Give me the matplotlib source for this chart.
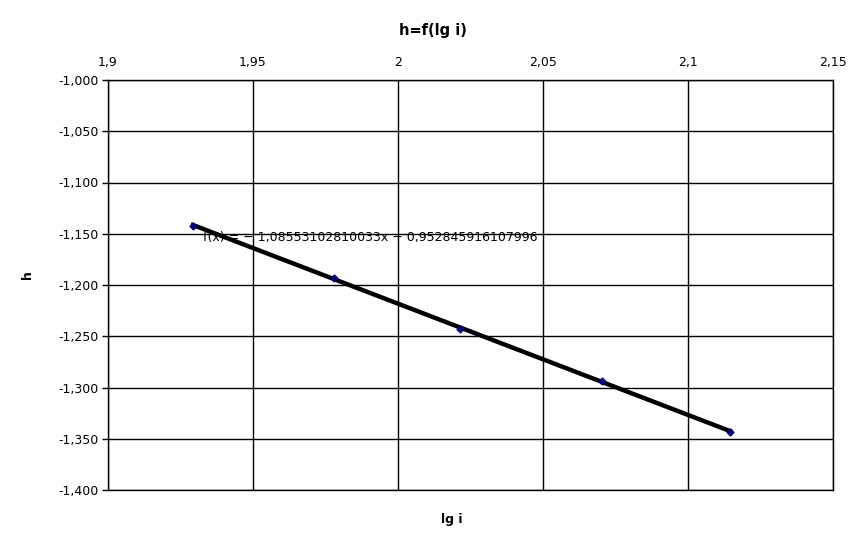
import numpy as np
import matplotlib.pyplot as plt
from matplotlib.ticker import FuncFormatter, MultipleLocator

# measured points (lg i, h)
lg_i = [1.9293, 1.9779, 2.0214, 2.0703, 2.1145]
h = [-1.1424, -1.1932, -1.2429, -1.2937, -1.3434]

# trendline as printed on the chart
slope = -1.08553102810033
intercept = 0.952845916107996
eq_label = "f(x) = \u2212 1,08553102810033x \u2212 0,952845916107996"


def comma(fmt):
    return FuncFormatter(lambda v, p: fmt(v).replace(".", ","))


def main():
    fig = plt.figure(figsize=(8.66, 5.48), dpi=100)
    ax = fig.add_axes([108 / 866, 1 - 490 / 548, 725 / 866, 410 / 548])

    xs = np.array([min(lg_i), max(lg_i)])
    ax.plot(xs, slope * xs + intercept, color="black", lw=3.2, zorder=3)
    ax.plot(lg_i, h, linestyle="none", marker="D", ms=3.5, color="#000080", zorder=4)

    ax.text(1.9327, -1.1535, eq_label, fontsize=9, va="center", ha="left", zorder=5)

    ax.set_xlim(1.9, 2.15)
    ax.set_ylim(-1.4, -1.0)
    ax.xaxis.set_major_locator(MultipleLocator(0.05))
    ax.yaxis.set_major_locator(MultipleLocator(0.05))
    ax.xaxis.set_major_formatter(comma(lambda v: ("%.2f" % v).rstrip("0").rstrip(".")))
    ax.yaxis.set_major_formatter(comma(lambda v: "%.3f" % v))
    ax.xaxis.tick_top()
    ax.tick_params(axis="x", length=0, pad=8, labelsize=9)
    ax.tick_params(axis="y", length=4, width=1, pad=3, labelsize=9)
    ax.grid(True, color="black", lw=1)
    ax.set_axisbelow(True)
    for s in ax.spines.values():
        s.set_linewidth(1)

    fig.text(433 / 866, 1 - 30 / 548, "h=f(lg i)", ha="center", va="center",
             fontsize=10.5, fontweight="bold")
    fig.text(452 / 866, 1 - 520 / 548, "lg i", ha="center", va="center",
             fontsize=9, fontweight="bold")
    fig.text(28 / 866, 1 - 275 / 548, "h", ha="center", va="center",
             fontsize=9, fontweight="bold", rotation=90)

    fig.savefig("out.png", dpi=100)
    plt.close(fig)


if __name__ == "__main__":
    main()
